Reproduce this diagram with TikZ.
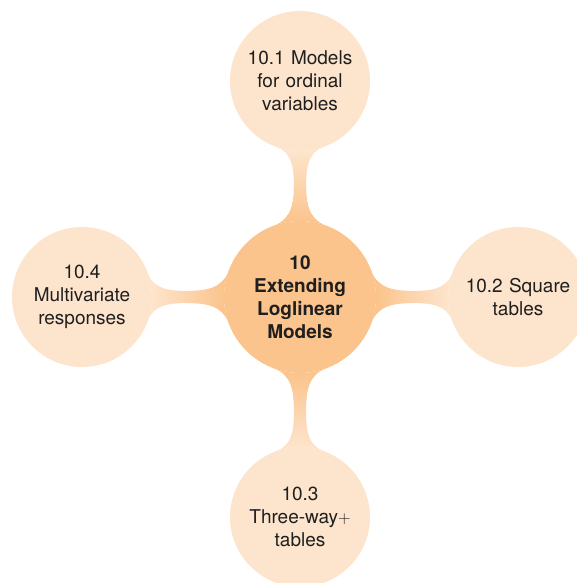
\documentclass[tikz,border=0pt]{standalone}
\usepackage{fontspec}
\setmainfont{TeX Gyre Heros}
\usetikzlibrary{mindmap,backgrounds}
\definecolor{hubfill}{RGB}{251,196,140}
\definecolor{leaffill}{RGB}{253,228,204}
\begin{document}
\begin{tikzpicture}[x=1pt, y=1pt, mindmap,
  topic/.style={circle, fill=leaffill, draw=none, minimum size=140pt, inner sep=0pt,
    text width=124pt, align=center, text=black!88, font=\fontsize{19}{23}\selectfont},
  hub/.style={topic, fill=hubfill, minimum size=152pt, font=\fontsize{19}{23}\selectfont\bfseries},
  bar/.style={circle connection bar switch color=from (hubfill) to (leaffill)}]
\useasboundingbox (0,0) rectangle (576,583);
\node[hub]   (main)     at (300,286) {10\\Extending\\Loglinear\\Models};
\node[topic] (ordinal)  at (300,502) {10.1 Models for ordinal variables};
\node[topic] (square)   at (518,286) {10.2 Square tables};
\node[topic] (threeway) at (300,66)  {10.3\\Three-way$+$\\tables};
\node[topic] (multi)    at (82,286)  {10.4\\Multivariate\\responses};
\begin{scope}[on background layer]
\path (main) to[bar] (ordinal);
\path (main) to[bar] (square);
\path (main) to[bar] (threeway);
\path (main) to[bar] (multi);
\end{scope}
\end{tikzpicture}
\end{document}
